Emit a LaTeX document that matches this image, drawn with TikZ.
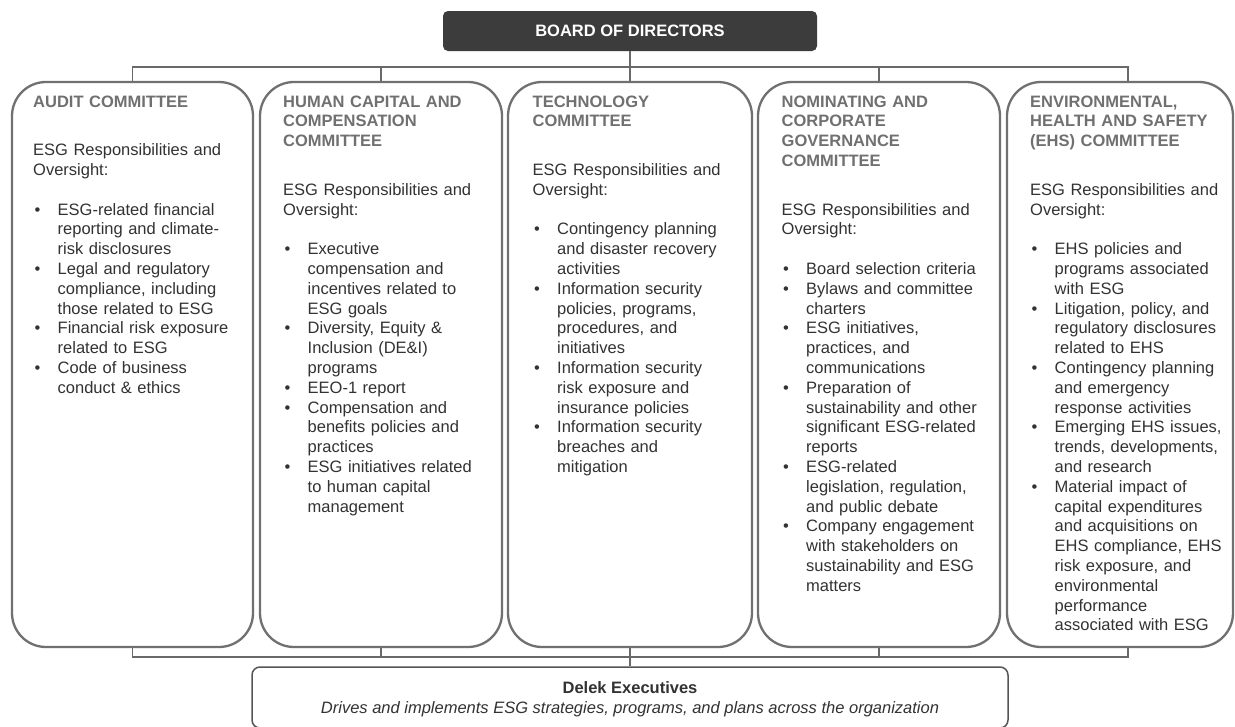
\documentclass[tikz,border=0pt]{standalone}
\usepackage{fontspec}
\setmainfont{Liberation Sans}
\definecolor{boxc}{RGB}{112,112,112}
\definecolor{connc}{RGB}{105,105,105}
\definecolor{headc}{RGB}{112,112,112}
\definecolor{bodyc}{RGB}{50,50,50}
\definecolor{boardc}{RGB}{60,60,60}
\definecolor{execc}{RGB}{85,85,85}
\newcommand\bxhead[1]{\noindent\strut{\bfseries\color{headc}#1}\par\vspace{28.8pt}}
\newcommand\bxsub{\noindent ESG Responsibilities and\newline Oversight:\par\vspace{19.8pt}}
\newcommand\bxitem[1]{\par\noindent\hangindent=24.5pt\hangafter=1\makebox[24.5pt][l]{\hspace{1.5pt}\textbullet}#1\par}
\begin{document}
\begin{tikzpicture}[x=1pt,y=-1pt,
  combox/.style={draw=boxc, line width=2.3pt, rounded corners=34pt, inner sep=0pt, minimum height=565pt, fill=white},
  conn/.style={draw=connc, line width=1.8pt},
  txt/.style={anchor=north west, inner sep=0pt, text width=240pt, align=left, text=bodyc,
    font=\fontsize{16.5pt}{19.8pt}\selectfont},
  boardbox/.style={fill=boardc, rounded corners=5pt, minimum width=374pt, minimum height=40pt, inner sep=0pt,
    text=white, font=\fontsize{16.5pt}{19.8pt}\selectfont\bfseries},
  execbox/.style={draw=execc, line width=1.5pt, rounded corners=8pt, minimum width=756pt, minimum height=61pt, inner sep=0pt},
  exectxt/.style={anchor=base, inner sep=0pt, text=bodyc, font=\fontsize{16.5pt}{19.8pt}\selectfont}
]
\useasboundingbox (0,0) rectangle (1235,726);
\fill[white] (0,0) rectangle (1235,726);
\clip (0,0) rectangle (1235,726);

\coordinate (tbus) at (0,67);
\coordinate (bbus) at (0,657);

% committee boxes
\node[combox, minimum width=241pt] (b1) at (132.5,364.5) {};
\node[combox, minimum width=242pt] (b2) at (381,364.5) {};
\node[combox, minimum width=244pt] (b3) at (630,364.5) {};
\node[combox, minimum width=242pt] (b4) at (879,364.5) {};
\node[combox, minimum width=226pt] (b5) at (1120,364.5) {};
\coordinate (tb5) at ([xshift=8pt]b5.north);
\coordinate (bb5) at ([xshift=8pt]b5.south);

% board and executives
\node[boardbox] (board) at (630,31) {BOARD OF DIRECTORS};
\node[execbox] (exec) at (630,697.5) {};
\node[exectxt, font=\fontsize{16.5pt}{19.8pt}\selectfont\bfseries] (exect) at (630,693) {Delek Executives};
\node[exectxt, font=\fontsize{16.5pt}{19.8pt}\selectfont\itshape] (execd) at (630,713) {Drives and implements ESG strategies, programs, and plans across the organization};

% top connectors
\draw[conn] (board.south) -- (board.south |- tbus);
\draw[conn] (b1.north) -- (b1.north |- tbus) -- (tb5 |- tbus) -- (tb5);
\draw[conn] (b2.north) -- (b2.north |- tbus);
\draw[conn] (b3.north) -- (b3.north |- tbus);
\draw[conn] (b4.north) -- (b4.north |- tbus);

% bottom connectors
\draw[conn] (b1.south) -- (b1.south |- bbus) -- (bb5 |- bbus) -- (bb5);
\draw[conn] (b2.south) -- (b2.south |- bbus);
\draw[conn] (b4.south) -- (b4.south |- bbus);
\draw[conn] (b3.south) -- (exec.north);

% texts
\node[txt] (t1) at (33,93.1) {%
\bxhead{AUDIT COMMITTEE}%
\bxsub
\bxitem{ESG-related financial\newline reporting and climate-\newline risk disclosures}%
\bxitem{Legal and regulatory\newline compliance, including\newline those related to ESG}%
\bxitem{Financial risk exposure\newline related to ESG}%
\bxitem{Code of business\newline conduct \& ethics}};

\node[txt] (t2) at (283,93.1) {%
\bxhead{HUMAN CAPITAL AND\newline COMPENSATION\newline COMMITTEE}%
\bxsub
\bxitem{Executive\newline compensation and\newline incentives related to\newline ESG goals}%
\bxitem{Diversity, Equity \&\newline Inclusion (DE\&I)\newline programs}%
\bxitem{EEO-1 report}%
\bxitem{Compensation and\newline benefits policies and\newline practices}%
\bxitem{ESG initiatives related\newline to human capital\newline management}};

\node[txt] (t3) at (532.5,93.1) {%
\bxhead{TECHNOLOGY\newline COMMITTEE}%
\bxsub
\bxitem{Contingency planning\newline and disaster recovery\newline activities}%
\bxitem{Information security\newline policies, programs,\newline procedures, and\newline initiatives}%
\bxitem{Information security\newline risk exposure and\newline insurance policies}%
\bxitem{Information security\newline breaches and\newline mitigation}};

\node[txt] (t4) at (781.5,93.1) {%
\bxhead{NOMINATING AND\newline CORPORATE\newline GOVERNANCE\newline COMMITTEE}%
\bxsub
\bxitem{Board selection criteria}%
\bxitem{Bylaws and committee\newline charters}%
\bxitem{ESG initiatives,\newline practices, and\newline communications}%
\bxitem{Preparation of\newline sustainability and other\newline significant ESG-related\newline reports}%
\bxitem{ESG-related\newline legislation, regulation,\newline and public debate}%
\bxitem{Company engagement\newline with stakeholders on\newline sustainability and ESG\newline matters}};

\node[txt] (t5) at (1030,93.1) {%
\bxhead{ENVIRONMENTAL,\newline HEALTH AND SAFETY\newline (EHS) COMMITTEE}%
\bxsub
\bxitem{EHS policies and\newline programs associated\newline with ESG}%
\bxitem{Litigation, policy, and\newline regulatory disclosures\newline related to EHS}%
\bxitem{Contingency planning\newline and emergency\newline response activities}%
\bxitem{Emerging EHS issues,\newline trends, developments,\newline and research}%
\bxitem{Material impact of\newline capital expenditures\newline and acquisitions on\newline EHS compliance, EHS\newline risk exposure, and\newline environmental\newline performance\newline associated with ESG}};
\end{tikzpicture}
\end{document}
